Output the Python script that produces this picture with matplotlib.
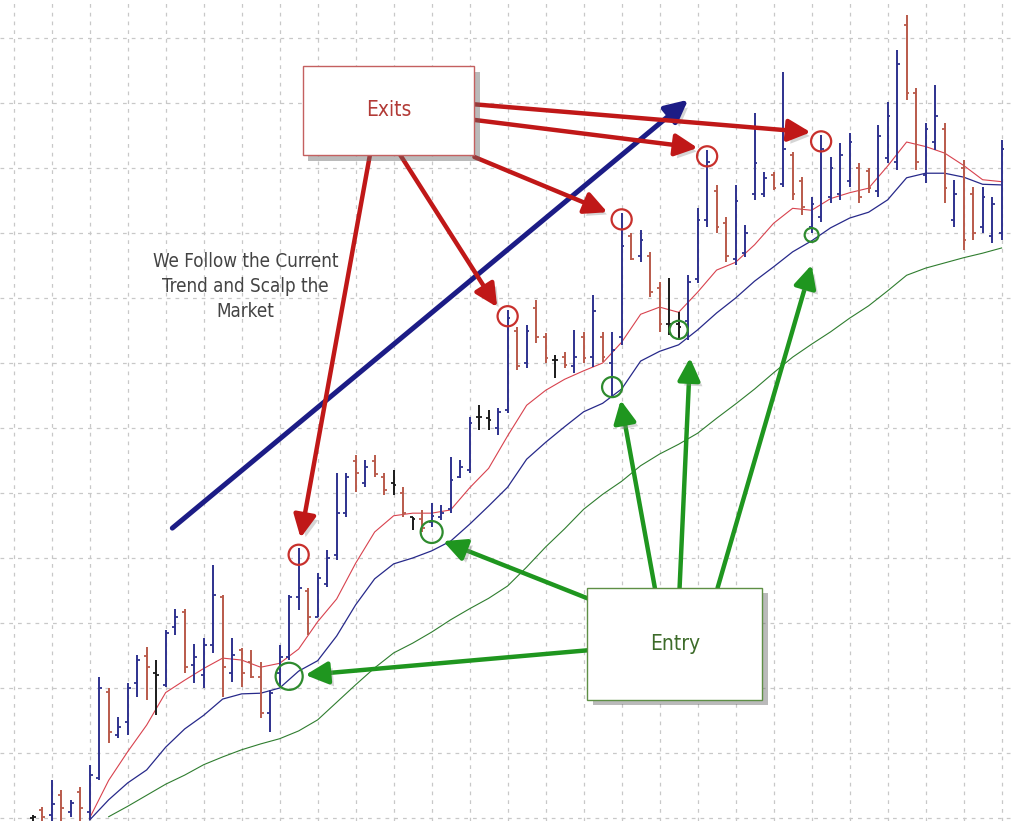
import matplotlib
matplotlib.use("Agg")
import matplotlib.pyplot as plt
import matplotlib.patheffects as pe
from matplotlib.patches import Rectangle
import numpy as np

# OHLC bars, one per period (price in pips above an arbitrary base)
bar_high = [0.5, 1.7, 5.8, 4.3, 2.8, 4.8, 8.2, 21.7, 20.0, 15.5,
            20.8, 25.1, 26.3, 24.3, 28.9, 32.2, 32.2, 26.8, 27.7, 38.9,
            34.3, 27.7, 26.2, 25.8, 24.0, 19.7, 26.6, 34.3, 41.5, 35.4,
            37.7, 41.2, 53.1, 53.1, 55.8, 55.1, 55.8, 53.1, 53.5, 50.9,
            46.3, 47.4, 48.5, 48.2, 55.5, 55.1, 61.7, 63.5, 62.8, 63.1,
            78.2, 75.5, 75.8, 79.7, 74.6, 71.2, 71.7, 75.1, 74.8, 80.5,
            74.8, 74.8, 93.1, 90.0, 90.5, 87.1, 82.5, 83.1, 77.8, 83.5,
            93.8, 102.8, 97.4, 92.5, 97.4, 91.2, 108.5, 99.4, 99.4, 114.8,
            102.5, 98.6, 95.5, 105.1, 101.7, 103.8, 105.4, 100.8, 100.0, 106.6,
            110.2, 118.2, 123.5, 112.3, 106.9, 112.8, 106.9, 98.2, 101.2, 97.1,
            97.1, 95.5, 104.3]
bar_low = [-0.5, -0.5, -0.5, -0.5, 0.2, -0.5, -0.3, 5.8, 11.5, 12.3,
           12.8, 18.6, 18.2, 15.8, 20.2, 28.2, 22.3, 20.8, 20.0, 25.4,
           18.6, 20.9, 20.2, 21.5, 15.4, 13.2, 20.2, 24.3, 32.0, 28.2,
           30.9, 35.5, 39.7, 46.3, 50.2, 50.9, 52.5, 49.7, 49.7, 46.3,
           44.3, 44.0, 44.8, 45.8, 46.9, 52.3, 53.1, 59.7, 59.7, 58.9,
           62.3, 68.9, 69.2, 73.1, 70.0, 67.7, 69.2, 68.5, 70.0, 69.4,
           70.2, 64.8, 72.8, 85.8, 85.5, 80.2, 74.8, 74.3, 73.5, 73.5,
           82.3, 90.9, 90.0, 85.5, 85.1, 86.3, 95.1, 95.5, 96.6, 97.1,
           95.1, 92.8, 90.0, 91.7, 94.6, 95.1, 97.1, 94.6, 96.2, 95.5,
           100.8, 99.7, 110.5, 99.7, 97.7, 102.8, 94.6, 90.9, 87.4, 88.9,
           90.0, 88.5, 88.9]
bar_open = [0.0, 1.3, 0.5, 3.5, 1.0, 4.0, 1.0, 6.2, 19.4, 12.8,
            14.8, 20.8, 25.0, 22.3, 20.5, 29.4, 31.7, 23.5, 22.0, 26.6,
            34.0, 22.3, 25.8, 24.0, 21.7, 16.2, 22.3, 24.8, 34.0, 35.0,
            30.9, 36.0, 40.5, 46.9, 55.0, 51.5, 55.0, 52.5, 51.5, 50.0,
            46.3, 46.0, 45.5, 46.3, 47.5, 52.5, 53.5, 61.7, 61.5, 60.0,
            62.8, 75.0, 70.0, 78.5, 74.0, 70.5, 71.0, 69.5, 74.0, 71.0,
            74.0, 70.0, 74.0, 89.5, 86.5, 86.5, 81.5, 76.0, 76.0, 76.5,
            83.0, 92.0, 96.5, 91.5, 86.0, 87.0, 96.0, 96.0, 99.0, 97.5,
            102.0, 98.0, 91.0, 92.5, 95.5, 96.0, 98.0, 100.0, 99.5, 96.5,
            101.5, 101.0, 122.0, 111.5, 99.0, 104.0, 106.0, 92.0, 100.0, 96.0,
            91.0, 89.5, 90.0]
bar_close = [0.2, 0.2, 2.2, 1.5, 2.3, 1.5, 6.6, 20.0, 13.2, 14.0,
             20.0, 24.3, 23.2, 22.0, 28.5, 30.9, 23.2, 24.8, 26.6, 34.3,
             23.2, 25.1, 22.3, 21.7, 16.2, 19.2, 24.8, 34.0, 35.4, 30.9,
             36.9, 40.0, 46.9, 52.5, 53.1, 54.0, 53.0, 50.5, 51.2, 46.9,
             46.0, 44.6, 46.5, 47.0, 52.0, 54.0, 60.8, 61.7, 61.2, 62.5,
             77.0, 69.5, 75.0, 74.0, 70.8, 70.5, 69.7, 71.0, 70.8, 78.0,
             71.0, 72.0, 88.0, 86.0, 89.0, 81.0, 76.0, 76.0, 75.5, 82.5,
             92.0, 101.0, 91.0, 86.5, 95.0, 90.0, 100.8, 98.5, 97.0, 103.0,
             96.0, 94.0, 94.5, 103.0, 100.0, 102.0, 104.0, 95.5, 97.0, 105.0,
             108.0, 116.0, 111.5, 101.0, 106.0, 108.0, 97.0, 96.0, 89.0, 90.0,
             95.5, 94.5, 103.0]
bar_kind = list("krbrbrbbrb" "bbrkbbrbbb" "rbrrrbbbbr" "bbbbrbrrkr"
                "krbbbbbkkb" "brbrrkrbrb" "rbbrbrrkkb" "bbrrbbbbrb"
                "rrbbbbbrrb" "bbrrbbrbrr" "bbb")

# moving averages, read every second bar
ma_fast_x = np.arange(6, 103, 2)
ma_fast = [0.0, 5.8, 10.2, 14.3, 19.3, 21.2, 23.0, 24.6, 24.3, 23.2,
           23.8, 26.0, 30.2, 33.7, 39.2, 44.0, 46.5, 46.9, 46.9, 47.4,
           50.8, 53.8, 58.8, 63.5, 65.8, 67.5, 68.8, 70.0, 73.2, 77.5,
           78.6, 77.8, 80.9, 84.3, 85.5, 88.2, 91.5, 93.8, 93.5, 95.3,
           96.2, 96.9, 100.3, 104.0, 103.3, 102.3, 100.4, 98.2, 97.9]
ma_mid_x = np.arange(6, 103, 2)
ma_mid = [-0.3, 2.8, 5.4, 7.4, 10.9, 13.7, 15.8, 18.3, 19.1, 19.2,
          20.0, 22.6, 24.2, 28.0, 32.8, 36.8, 39.1, 40.0, 41.1, 42.6,
          45.2, 48.0, 50.9, 55.2, 57.8, 60.2, 62.5, 63.8, 66.0, 70.3,
          71.8, 72.8, 75.1, 77.7, 80.0, 82.6, 84.8, 87.1, 88.8, 90.8,
          92.3, 93.2, 95.1, 98.5, 99.2, 99.2, 98.6, 97.5, 97.4]
ma_slow_x = np.arange(8, 103, 2)
ma_slow = [0.2, 1.8, 3.5, 5.2, 6.6, 8.2, 9.4, 10.5, 11.4, 12.2,
           13.4, 15.1, 17.8, 20.5, 23.1, 25.4, 26.9, 28.6, 30.5, 32.2,
           33.8, 35.7, 38.6, 41.7, 44.5, 47.5, 49.8, 51.8, 54.2, 56.0,
           57.5, 59.2, 61.5, 63.7, 66.0, 68.5, 70.9, 72.9, 74.8, 76.9,
           78.8, 81.1, 83.5, 84.6, 85.4, 86.2, 86.9, 87.7]

exit_bars = [28, 50, 62, 71, 83]
entry_bars = [27, 42, 61, 68, 82]
entry_levels = [21.8, 44.0, 66.3, 75.1, 89.7]

kind_color = {"b": "#2e318e", "r": "#b95a4b", "k": "#1a1a1a"}
narrow = dict(family="DejaVu Sans", fontstretch="condensed")

fig = plt.figure(figsize=(10.13, 8.21), dpi=100)
ax = fig.add_axes([0, 0, 1, 1])
ax.set_xlim(-3.44, 103.2)
ax.set_ylim(-0.46, 125.85)

ax.set_xticks(np.arange(-2, 104, 4))
ax.set_yticks(np.arange(0, 130, 10))
ax.grid(True, color="#c8c8c8", linestyle=(0, (3, 4)), linewidth=0.9)
ax.tick_params(length=0, labelbottom=False, labelleft=False)
for s in ax.spines.values():
    s.set_visible(False)

# bars
x = np.arange(len(bar_high))
cols = [kind_color[k] for k in bar_kind]
ax.vlines(x, bar_low, bar_high, colors=cols, lw=1.4, zorder=3)
ax.hlines(bar_open, x - 0.3, x, colors=cols, lw=1.3, zorder=3)
ax.hlines(bar_close, x, x + 0.3, colors=cols, lw=1.3, zorder=3)

ax.plot(ma_slow_x, ma_slow, color="#2f7d2f", lw=0.8, zorder=2)
ax.plot(ma_mid_x, ma_mid, color="#27298a", lw=0.9, zorder=2)
ax.plot(ma_fast_x, ma_fast, color="#d8424e", lw=0.8, zorder=2)

# circles
exit_levels = [bar_high[i] - 1.0 for i in exit_bars]
ax.scatter(exit_bars, exit_levels, s=210, facecolors="none",
           edgecolors="#c8302c", linewidths=1.6, zorder=6)
ax.scatter(entry_bars, entry_levels, s=[380, 250, 210, 170, 100],
           facecolors="none", edgecolors="#2e8b2e", linewidths=1.6, zorder=6)

shadow = [pe.withSimplePatchShadow(offset=(3, -3), shadow_rgbFace="#888888", alpha=0.35)]

def arrow(tail, head, color, lw=3.2):
    ax.annotate("", xy=head, xytext=tail,
                arrowprops=dict(arrowstyle="-|>,head_length=0.85,head_width=0.42",
                                color=color, lw=lw, mutation_scale=16,
                                shrinkA=0, shrinkB=0, path_effects=shadow),
                zorder=4)

# trend arrow
arrow((14.7, 44.6), (69.0, 110.5), "#1c1c86", lw=3.6)

# exits box and arrows
ax.add_patch(Rectangle((28.45, 102.0), 18.05, 13.7, facecolor="white",
                       edgecolor="#c46060", lw=1.0, zorder=5,
                       path_effects=[pe.withSimplePatchShadow(offset=(4, -4), shadow_rgbFace="#666666", alpha=0.45)]))
ax.text(37.5, 108.9, "Exits", ha="center", va="center", fontsize=15,
        color="#b23a36", zorder=6, **narrow)
exit_tails = [(35.5, 102.0), (38.7, 102.0), (46.5, 101.7), (46.5, 107.4), (46.5, 109.8)]
exit_tips = [(28.2, 43.1), (48.9, 78.6), (60.5, 93.2), (70.0, 103.1), (81.9, 105.5)]
for t, h in zip(exit_tails, exit_tips):
    arrow(t, h, "#c01818")

# entry box and arrows
ax.add_patch(Rectangle((58.4, 18.2), 18.4, 17.2, facecolor="white",
                       edgecolor="#5e8f45", lw=1.0, zorder=5,
                       path_effects=[pe.withSimplePatchShadow(offset=(4, -4), shadow_rgbFace="#666666", alpha=0.45)]))
ax.text(67.6, 26.8, "Entry", ha="center", va="center", fontsize=15,
        color="#3d6b2a", zorder=6, **narrow)
entry_tails = [(58.4, 25.8), (58.4, 33.8), (65.5, 35.4), (68.1, 35.4), (72.1, 35.4)]
entry_tips = [(28.7, 22.0), (43.2, 42.6), (61.9, 64.3), (69.2, 70.8), (82.0, 85.1)]
for t, h in zip(entry_tails, entry_tips):
    arrow(t, h, "#1f961f")

ax.text(22.4, 81.7, "We Follow the Current\nTrend and Scalp the\nMarket",
        ha="center", va="center", fontsize=13.5, linespacing=1.4, color="#444444",
        zorder=6, **narrow)

fig.savefig("out.png", dpi=100)
